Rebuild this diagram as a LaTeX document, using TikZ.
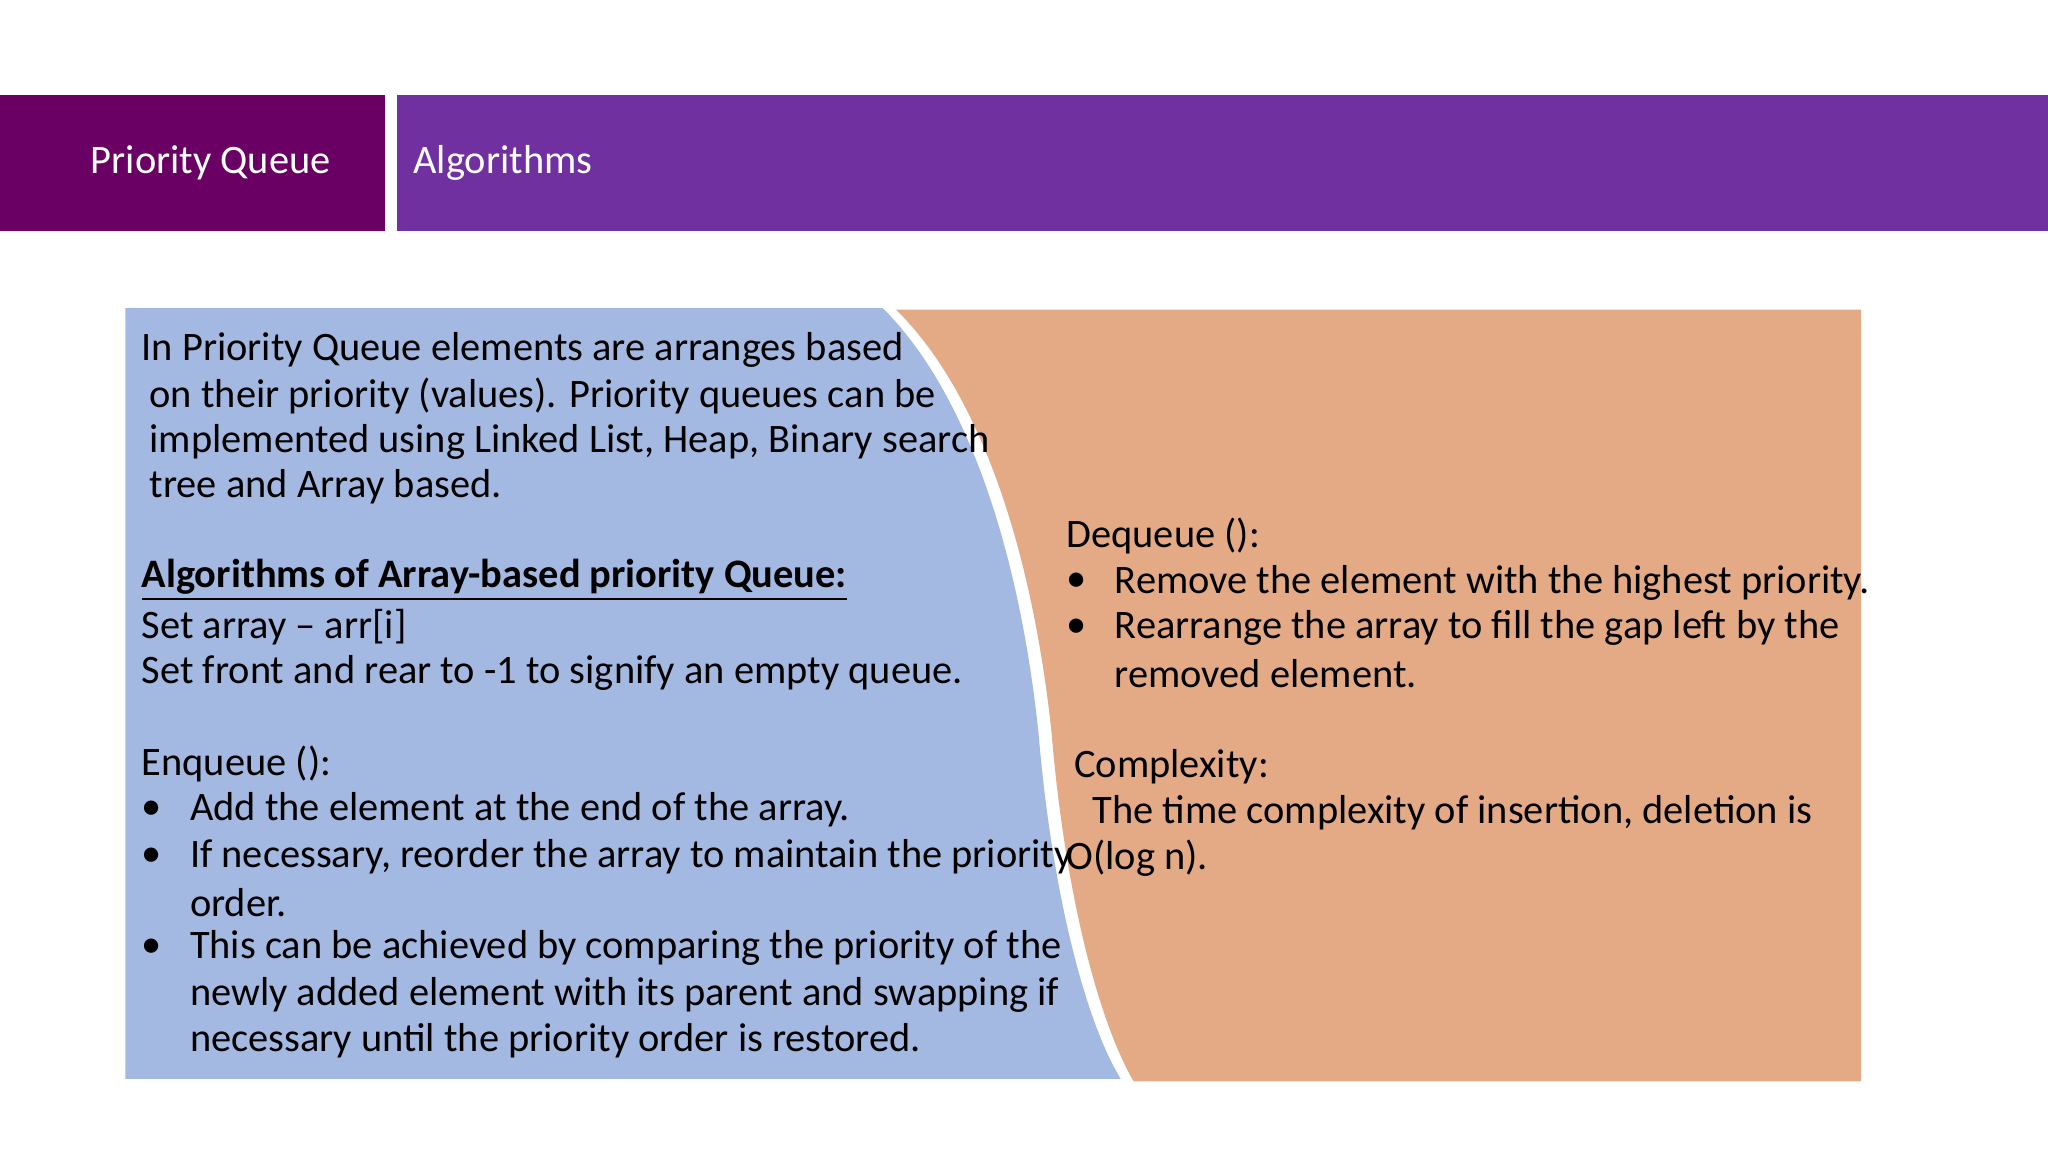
\documentclass[tikz,border=0pt]{standalone}
\usepackage{fontspec}
\setmainfont{Carlito}
\definecolor{hdrdark}{HTML}{6A0064}
\definecolor{hdrmain}{HTML}{7030A0}
\definecolor{panelblue}{HTML}{A3B9E1}
\definecolor{panelorange}{HTML}{E3AA85}
\begin{document}
\begin{tikzpicture}[x=0.01306cm,y=-0.01306cm,
    txt/.style={anchor=west,inner sep=0,font=\fontsize{11.5}{13}\selectfont},
    hdr/.style={anchor=west,inner sep=0,text=white,font=\fontsize{11.5}{13}\selectfont},
    ]
    \useasboundingbox (0,0) rectangle (1568,882);
    % header bars
    \fill[hdrdark] (0,73) rectangle (295,177);
    \fill[hdrmain] (304,73) rectangle (1568,177);
    \node [hdr] (title) at (69,125) {Priority Queue};
    \node [hdr] (topic) at (316,125) {Algorithms};
    % panels
    \fill[panelblue] (96,236) -- (676,236) .. controls (740,300) and (780,420) .. (795,560)
        .. controls (805,680) and (830,780) .. (858,826) -- (96,826) -- cycle;
    \fill[panelorange] (686,237) .. controls (750,300) and (790,420) .. (805,560)
        .. controls (815,680) and (840,780) .. (868,828) -- (1425,828) -- (1425,237) -- cycle;
    % left text
    \node [txt] (l1) at (108,268) {In Priority Queue elements are arranges based};
    \node [txt] (l2) at (114,303) {on their priority (values). Priority queues can be};
    \node [txt] (l3) at (114,338) {implemented using Linked List, Heap, Binary search};
    \node [txt] (l4) at (114,373) {tree and Array based.};
    \node [txt,font=\fontsize{11.5}{13}\selectfont\bfseries] (alg) at (108,444) {\underline{Algorithms of Array-based priority Queue:}};
    \node [txt] (l6) at (108,480) {Set array – arr[i]};
    \node [txt] (l7) at (108,515) {Set front and rear to -1 to signify an empty queue.};
    \node [txt] (enq) at (108,585) {Enqueue ():};
    \foreach \y in {620,656,726}
        \node [txt] at (108,\y) {•};
    \node [txt] (e1) at (145,620) {Add the element at the end of the array.};
    \node [txt] (e2) at (145,656) {If necessary, reorder the array to maintain the priority};
    \node [txt] (e2b) at (145,691) {order.};
    \node [txt] (e3) at (145,726) {This can be achieved by comparing the priority of the};
    \node [txt] (e3b) at (145,762) {newly added element with its parent and swapping if};
    \node [txt] (e3c) at (145,797) {necessary until the priority order is restored.};
    % right text
    \node [txt] (deq) at (816,410) {Dequeue ():};
    \foreach \y in {446,481}
        \node [txt] at (816,\y) {•};
    \node [txt] (d1) at (853,446) {Remove the element with the highest priority.};
    \node [txt] (d2) at (853,481) {Rearrange the array to fill the gap left by the};
    \node [txt] (d2b) at (853,516) {removed element.};
    \node [txt] (cx) at (822,587) {Complexity:};
    \node [txt] (cx1) at (836,622) {The time complexity of insertion, deletion is};
    \node [txt] (cx2) at (816,657) {O(log n).};
\end{tikzpicture}
\end{document}
